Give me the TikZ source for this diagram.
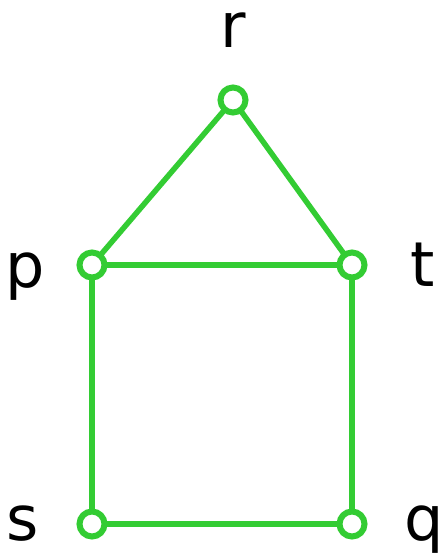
\documentclass[tikz,border=0pt]{standalone}
\usepackage{fontspec}
\setmainfont{DejaVu Sans}
\definecolor{gr}{RGB}{51,204,51}
\begin{document}
\begin{tikzpicture}[x=1pt,y=-1pt,
  vtx/.style={circle,draw=gr,fill=white,line width=6pt,minimum size=25pt,inner sep=0pt},
  edge/.style={draw=gr,line width=5.5pt},
  lbl/.style={anchor=base,inner sep=0pt,font=\fontsize{62}{62}\selectfont}]
\useasboundingbox (0,0) rectangle (442,555);
\coordinate (r) at (233,100);
\coordinate (p) at (92,265);
\coordinate (t) at (352,265);
\coordinate (s) at (92,524);
\coordinate (q) at (352,524);
\draw[edge] (r) -- (p);
\draw[edge] (r) -- (t);
\draw[edge] (p) -- (t);
\draw[edge] (p) -- (s);
\draw[edge] (t) -- (q);
\draw[edge] (s) -- (q);
\node[vtx] (nr) at (r) {};
\node[vtx] (np) at (p) {};
\node[vtx] (nt) at (t) {};
\node[vtx] (ns) at (s) {};
\node[vtx] (nq) at (q) {};
\node[lbl] (lr) at (233,47) {r};
\node[lbl] (lp) at (25,287) {p};
\node[lbl] (lt) at (423,286) {t};
\node[lbl] (ls) at (23,540) {s};
\node[lbl] (lq) at (424,540) {q};
\end{tikzpicture}
\end{document}
